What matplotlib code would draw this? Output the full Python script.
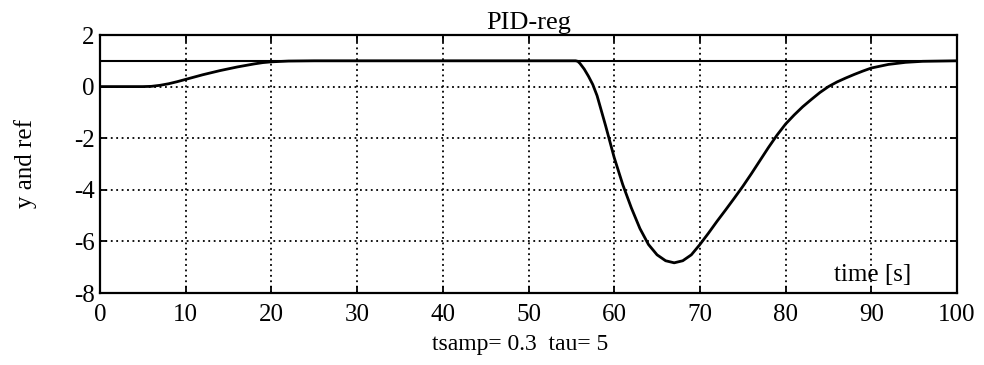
import matplotlib
matplotlib.use("Agg")
import matplotlib.pyplot as plt
import numpy as np

# Step response of the PID loop, sampled by eye along the curve
t = [0, 5, 6, 7, 8, 9, 10, 11, 12, 13, 14, 15, 16, 17, 18, 19, 20, 22, 25,
     55, 55.5, 55.75, 56, 56.5, 57, 57.5, 58, 59, 60, 61, 62, 63, 64, 65,
     66, 67, 68, 69, 70, 71, 72, 73, 74, 75, 76, 77, 78, 79, 80, 81, 82,
     83, 84, 85, 86, 87, 88, 89, 90, 92, 94, 96, 98, 100]
y = [0, 0, 0.01, 0.05, 0.11, 0.19, 0.28, 0.37, 0.46, 0.54, 0.62, 0.69, 0.76,
     0.82, 0.88, 0.93, 0.96, 0.99, 1.0,
     1.0, 1.0, 0.98, 0.9, 0.68, 0.4, 0.08, -0.35, -1.52, -2.75, -3.8,
     -4.7, -5.5, -6.12, -6.52, -6.75, -6.83, -6.75, -6.52, -6.12, -5.68,
     -5.22, -4.78, -4.33, -3.87, -3.38, -2.87, -2.36, -1.88, -1.45, -1.1,
     -0.78, -0.5, -0.23, 0.0, 0.18, 0.33, 0.47, 0.6, 0.72, 0.86, 0.94,
     0.98, 0.99, 1.0]
t_ref = [0, 100]
ref = [1, 1]

xticks = [0, 10, 20, 30, 40, 50, 60, 70, 80, 90, 100]
yticks = [-8, -6, -4, -2, 0, 2]

plt.rcParams['font.family'] = ['Liberation Serif', 'DejaVu Serif']
plt.rcParams['axes.unicode_minus'] = False

fig = plt.figure(figsize=(9.84, 3.65), dpi=100)
ax = fig.add_axes([100 / 984, 1 - 293 / 365, 857 / 984, 258 / 365])

ax.plot(t_ref, ref, color='black', lw=1.5)
ax.plot(t, y, color='black', lw=2.0)

ax.set_xlim(0, 100)
ax.set_ylim(-8, 2)
ax.set_xticks(xticks)
ax.set_yticks(yticks)
ax.tick_params(direction='in', length=5, width=1.3, top=True, right=True,
               labelsize=18, colors='black')
ax.tick_params(axis='x', pad=8)
ax.tick_params(axis='y', pad=4)
ax.grid(True, color='black', linestyle=(0, (1, 2)), linewidth=1.3)
for sp in ax.spines.values():
    sp.set_linewidth(1.6)

ax.set_title('PID-reg', fontsize=19, pad=4)
ax.set_ylabel('y and ref', fontsize=18)
ax.yaxis.set_label_coords(-0.074, 0.5)
ax.set_xlabel('tsamp= 0.3  tau= 5', fontsize=17)
ax.xaxis.label.set_verticalalignment('baseline')
ax.xaxis.set_label_coords(0.49, -0.22)

ax.text(85.6, -7.55, 'time [s]', fontsize=18, ha='left', va='baseline')

fig.savefig('out.png', dpi=100)
